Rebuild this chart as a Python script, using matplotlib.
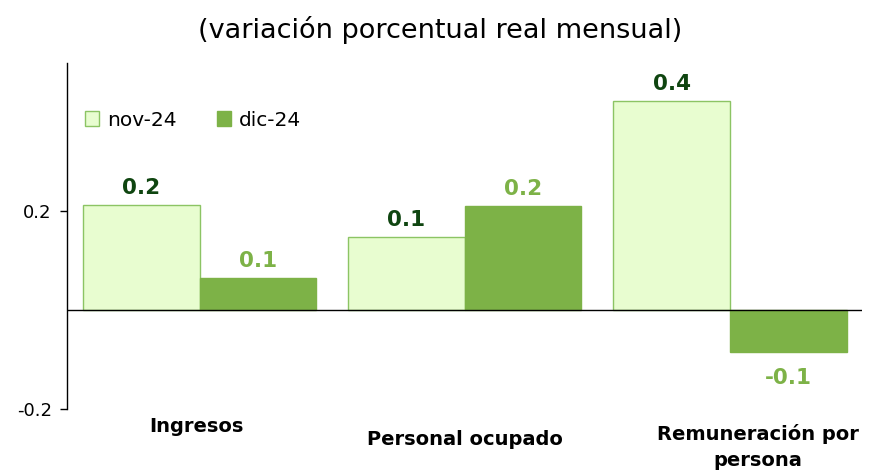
import numpy as np
import matplotlib.pyplot as plt

# datos (variación porcentual real mensual)
categorias = ['Ingresos', 'Personal ocupado', 'Remuneración por\npersona']
nov_24 = [0.212, 0.149, 0.424]
dic_24 = [0.065, 0.210, -0.084]
etiquetas_nov = ['0.2', '0.1', '0.4']
etiquetas_dic = ['0.1', '0.2', '-0.1']

plt.rcParams['font.family'] = ['DejaVu Sans']

color_nov = '#e8fdd0'
borde_nov = '#8cc464'
color_dic = '#7db247'
texto_nov = '#0f4510'
texto_dic = '#7db247'

fig = plt.figure(figsize=(8.79, 4.74), dpi=100)
ax = fig.add_axes([0.0762, 0.137, 0.905, 0.730])

x = np.arange(len(categorias))
ancho = 0.44

b1 = ax.bar(x - ancho / 2, nov_24, ancho, color=color_nov, edgecolor=borde_nov,
            linewidth=1.0, label='nov-24', zorder=2)
b2 = ax.bar(x + ancho / 2, dic_24, ancho, color=color_dic, edgecolor=color_dic,
            linewidth=1.0, label='dic-24', zorder=2)

for rect, txt in zip(b1, etiquetas_nov):
    ax.annotate(txt, (rect.get_x() + rect.get_width() / 2, rect.get_height()),
                xytext=(0, 5), textcoords='offset points', ha='center', va='bottom',
                fontsize=15.5, fontweight='bold', color=texto_nov)
for rect, txt, v in zip(b2, etiquetas_dic, dic_24):
    if v >= 0:
        ax.annotate(txt, (rect.get_x() + rect.get_width() / 2, v),
                    xytext=(0, 5), textcoords='offset points', ha='center', va='bottom',
                    fontsize=15.5, fontweight='bold', color=texto_dic)
    else:
        ax.annotate(txt, (rect.get_x() + rect.get_width() / 2, v),
                    xytext=(0, -12), textcoords='offset points', ha='center', va='top',
                    fontsize=15.5, fontweight='bold', color=texto_dic)

ax.axhline(0, color='black', linewidth=1.0, zorder=3)

ax.set_xlim(-0.5, len(categorias) - 0.5)
ax.set_ylim(-0.2, 0.5)
ax.set_yticks([-0.2, 0.2])
ax.set_yticklabels(['-0.2', '0.2'], fontsize=13)
ax.tick_params(axis='y', direction='out', length=5, width=1, colors='black', pad=6)
ax.set_xticks([])

for s in ['top', 'right', 'bottom']:
    ax.spines[s].set_visible(False)
ax.spines['left'].set_linewidth(1.0)

# etiquetas de categorías (la última va algo desplazada, como en el original)
x_cat = [-0.01, 0.0, 0.105]
y_cat = [-0.235, -0.262, -0.277]
for xi, dx, nombre, yc in zip(x, x_cat, categorias, y_cat):
    ax.text(xi + dx, yc, nombre, ha='center', va='center', fontsize=14,
            fontweight='bold', color='black', clip_on=False, linespacing=1.5)

ax.legend(loc='upper left', bbox_to_anchor=(0.0, 0.915), ncol=2, frameon=False,
          fontsize=14.5, handlelength=0.7, handleheight=0.7, handletextpad=0.4,
          columnspacing=2.0, borderaxespad=0.5)

fig.text(0.501, 0.937, '(variación porcentual real mensual)', ha='center', va='center',
         fontsize=19.5, color='black')

fig.savefig('out.png', dpi=100)
